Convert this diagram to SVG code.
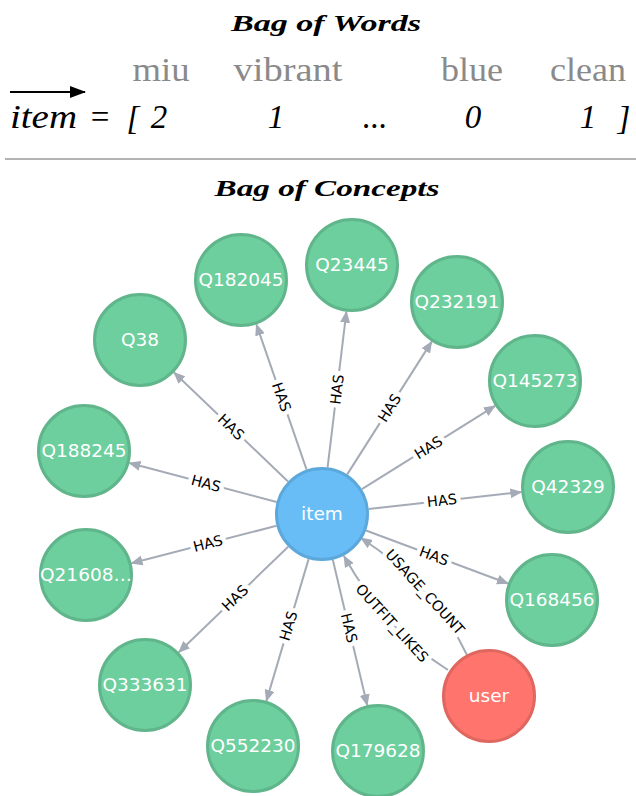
<svg xmlns="http://www.w3.org/2000/svg" width="636" height="796" viewBox="0 0 636 796">
  <style>
    .title { font-family: "Liberation Serif", "DejaVu Serif", serif; font-style: italic; font-weight: bold; font-size: 24px; fill: #000; }
    .word { font-family: "Liberation Serif", "DejaVu Serif", serif; font-size: 33px; fill: #8a8a8a; }
    .math { font-family: "Liberation Serif", "DejaVu Serif", serif; font-style: italic; font-size: 33px; fill: #000; }
    .mathup { font-family: "Liberation Serif", "DejaVu Serif", serif; font-size: 33px; fill: #000; }
    .node circle { stroke-width: 3; }
    .concept circle { fill: #6DCE9E; stroke: #60B58B; }
    .item circle { fill: #68BDF6; stroke: #5CA8DB; }
    .user circle { fill: #FF756E; stroke: #E06760; }
    .node text { font-family: "DejaVu Sans", Verdana, sans-serif; font-size: 18.5px; fill: #fff; text-anchor: middle; }
    .edge { stroke: #A5ABB6; stroke-width: 2; fill: none; marker-end: url(#arrow); }
    .elabel { font-family: "DejaVu Sans", Verdana, sans-serif; font-size: 14.5px; fill: #000; text-anchor: middle; dominant-baseline: central; stroke: #fff; stroke-width: 9; paint-order: stroke; stroke-linejoin: round; }
  </style>
  <defs>
    <marker id="arrow" viewBox="0 0 12 10" refX="11" refY="5" markerWidth="12" markerHeight="10" markerUnits="userSpaceOnUse" orient="auto">
      <path d="M0,0 L12,5 L0,10 Z" fill="#A5ABB6"/>
    </marker>
    <marker id="vec" viewBox="0 0 16 12" refX="15" refY="6" markerWidth="16" markerHeight="12" markerUnits="userSpaceOnUse" orient="auto">
      <path d="M0,0 L16,6 L0,12 Z" fill="#000"/>
    </marker>
  </defs>

  <!-- Bag of words header -->
  <g id="bag-of-words">
    <text class="title" x="326" y="31" text-anchor="middle" textLength="190" lengthAdjust="spacingAndGlyphs">Bag of Words</text>
    <text class="word" x="161" y="81" text-anchor="middle" textLength="57" lengthAdjust="spacingAndGlyphs">miu</text>
    <text class="word" x="288" y="81" text-anchor="middle" textLength="109" lengthAdjust="spacingAndGlyphs">vibrant</text>
    <text class="word" x="472" y="81" text-anchor="middle" textLength="62" lengthAdjust="spacingAndGlyphs">blue</text>
    <text class="word" x="588" y="81" text-anchor="middle" textLength="76" lengthAdjust="spacingAndGlyphs">clean</text>
    <line x1="10" y1="92" x2="85" y2="92" stroke="#000" stroke-width="2" marker-end="url(#vec)"/>
    <text class="math" x="10" y="128" textLength="67" lengthAdjust="spacingAndGlyphs">item</text>
    <text class="mathup" x="100" y="128" text-anchor="middle">=</text>
    <text class="math" x="133" y="129" text-anchor="middle">[</text>
    <text class="math" x="159" y="128" text-anchor="middle">2</text>
    <text class="math" x="276" y="128" text-anchor="middle">1</text>
    <text class="math" x="375" y="128" text-anchor="middle">...</text>
    <text class="math" x="473" y="128" text-anchor="middle">0</text>
    <text class="math" x="588" y="128" text-anchor="middle">1</text>
    <text class="math" x="624" y="129" text-anchor="middle">]</text>
    <line x1="5" y1="159" x2="636" y2="159" stroke="#999" stroke-width="1.5"/>
    <text class="title" x="327" y="196" text-anchor="middle" textLength="225" lengthAdjust="spacingAndGlyphs">Bag of Concepts</text>
  </g>

  <!-- Relationships -->
  <g id="connectors">
    <path class="edge" d="M288.0,481.5 L174.0,372.5"/>
    <path class="edge" d="M306.6,469.6 L256.4,324.4"/>
    <path class="edge" d="M327.6,467.3 L346.4,311.7"/>
    <path class="edge" d="M347.2,474.4 L431.7,341.6"/>
    <path class="edge" d="M361.9,489.1 L495.1,405.9"/>
    <path class="edge" d="M368.7,508.9 L521.3,492.1"/>
    <path class="edge" d="M366,530.5 L508,583.5"/>
    <path class="edge" d="M332.8,559.7 L367.2,705.3"/>
    <path class="edge" d="M308.6,559.1 L266.4,700.9"/>
    <path class="edge" d="M288.2,546.7 L178.8,652.3"/>
    <path class="edge" d="M276.5,525.8 L131.5,563.2"/>
    <path class="edge" d="M276.6,502 L129.4,463"/>
    <path class="edge" d="M467,655 Q434,585.5 361,538"/>
    <path class="edge" d="M448,670 Q386,631 344,556"/>

    <text class="elabel" transform="translate(231,427) rotate(43.7)">HAS</text>
    <text class="elabel" transform="translate(281.5,397) rotate(70.9)">HAS</text>
    <text class="elabel" transform="translate(337,389.5) rotate(-83.1)">HAS</text>
    <text class="elabel" transform="translate(389.5,408) rotate(-57.5)">HAS</text>
    <text class="elabel" transform="translate(428.5,447.5) rotate(-32)">HAS</text>
    <text class="elabel" transform="translate(442,500.5) rotate(-6.3)">HAS</text>
    <text class="elabel" transform="translate(434,556) rotate(20.5)">HAS</text>
    <text class="elabel" transform="translate(349,628) rotate(76.7)">HAS</text>
    <text class="elabel" transform="translate(288.5,626) rotate(-73.4)">HAS</text>
    <text class="elabel" transform="translate(235,598) rotate(-44)">HAS</text>
    <text class="elabel" transform="translate(208,543.5) rotate(-14.5)">HAS</text>
    <text class="elabel" transform="translate(206,483.5) rotate(14.8)">HAS</text>
    <text class="elabel" transform="translate(425,592) rotate(47.8)">USAGE_COUNT</text>
    <text class="elabel" transform="translate(392,623) rotate(47.6)">OUTFIT_LIKES</text>
  </g>

  <!-- Nodes -->
  <g id="item" class="node item"><circle cx="322" cy="514" r="45.5"/><text x="322" y="520">item</text></g>
  <g id="user" class="node user"><circle cx="489" cy="696" r="45.5"/><text x="489" y="702">user</text></g>
  <g id="q38" class="node concept"><circle cx="140" cy="340" r="45.5"/><text x="140" y="346">Q38</text></g>
  <g id="q182045" class="node concept"><circle cx="241" cy="280" r="45.5"/><text x="241" y="286">Q182045</text></g>
  <g id="q23445" class="node concept"><circle cx="352" cy="265" r="45.5"/><text x="352" y="271">Q23445</text></g>
  <g id="q232191" class="node concept"><circle cx="457" cy="302" r="45.5"/><text x="457" y="308">Q232191</text></g>
  <g id="q145273" class="node concept"><circle cx="535" cy="381" r="45.5"/><text x="535" y="387">Q145273</text></g>
  <g id="q42329" class="node concept"><circle cx="568" cy="487" r="45.5"/><text x="568" y="493">Q42329</text></g>
  <g id="q168456" class="node concept"><circle cx="552" cy="600" r="45.5"/><text x="552" y="606">Q168456</text></g>
  <g id="q179628" class="node concept"><circle cx="378" cy="751" r="45.5"/><text x="378" y="757">Q179628</text></g>
  <g id="q552230" class="node concept"><circle cx="253" cy="746" r="45.5"/><text x="253" y="752">Q552230</text></g>
  <g id="q333631" class="node concept"><circle cx="145" cy="685" r="45.5"/><text x="145" y="691">Q333631</text></g>
  <g id="q21608" class="node concept"><circle cx="86" cy="575" r="45.5"/><text x="86" y="581">Q21608…</text></g>
  <g id="q188245" class="node concept"><circle cx="84" cy="451" r="45.5"/><text x="84" y="457">Q188245</text></g>
</svg>
